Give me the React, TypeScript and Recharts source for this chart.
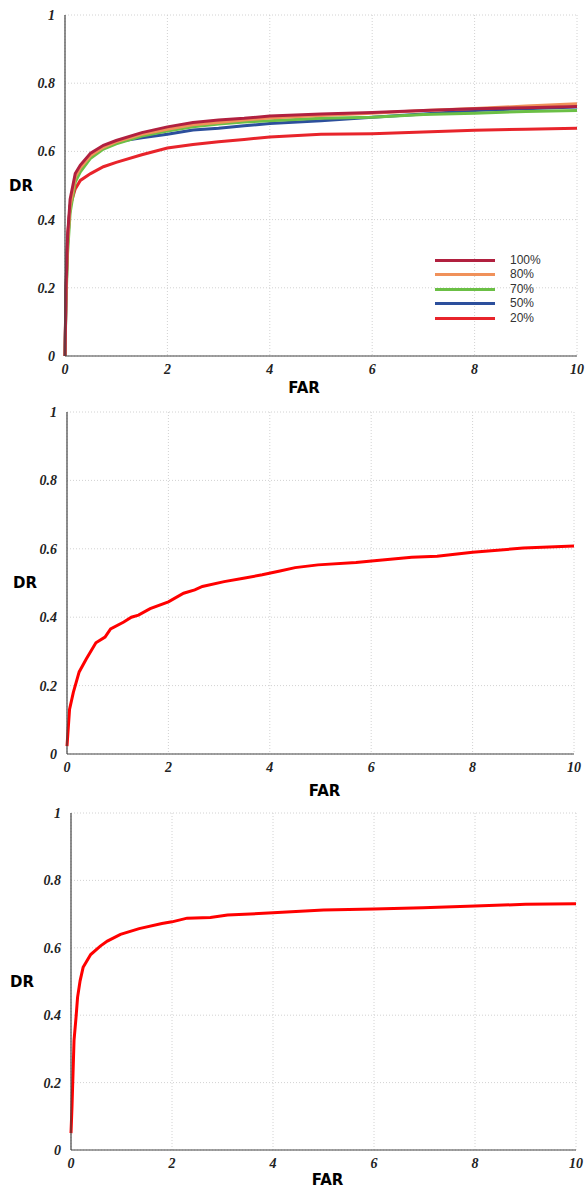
import { LineChart, Line, XAxis, YAxis, CartesianGrid, Legend, Label } from 'recharts';

const FAR_TICKS = [0, 2, 4, 6, 8, 10];
const DR_TICKS = [0, 0.2, 0.4, 0.6, 0.8, 1];

// top panel: five fractions on a common FAR grid
const FAR_A = [0, 0.02, 0.05, 0.1, 0.2, 0.3, 0.5, 0.75, 1, 1.5, 2, 2.5, 3, 3.5, 4, 5, 6, 7, 8, 9, 10];
const DR_100 = [0, 0.2, 0.35, 0.46, 0.535, 0.56, 0.595, 0.618, 0.632, 0.655, 0.672, 0.685, 0.692, 0.697, 0.704, 0.71, 0.714, 0.72, 0.725, 0.728, 0.732];
const DR_80 = [0, 0.18, 0.33, 0.44, 0.525, 0.552, 0.588, 0.612, 0.628, 0.65, 0.665, 0.678, 0.685, 0.692, 0.698, 0.705, 0.712, 0.72, 0.726, 0.733, 0.74];
const DR_70 = [0, 0.16, 0.3, 0.42, 0.51, 0.54, 0.58, 0.607, 0.622, 0.645, 0.66, 0.672, 0.68, 0.686, 0.69, 0.697, 0.7, 0.708, 0.712, 0.717, 0.72];
const DR_50 = [0, 0.18, 0.33, 0.44, 0.52, 0.55, 0.585, 0.61, 0.628, 0.64, 0.65, 0.663, 0.668, 0.675, 0.682, 0.69, 0.7, 0.71, 0.72, 0.725, 0.73];
const DR_20 = [0, 0.2, 0.35, 0.44, 0.49, 0.515, 0.535, 0.555, 0.568, 0.59, 0.61, 0.62, 0.628, 0.635, 0.642, 0.65, 0.652, 0.657, 0.662, 0.665, 0.668];

// middle panel
const FAR_B = [0, 0.05, 0.125, 0.24, 0.38, 0.57, 0.75, 0.86, 1.12, 1.27, 1.41, 1.64, 2.0, 2.3, 2.52, 2.67, 3.1, 3.48, 3.85, 4.2, 4.5, 4.95, 5.7, 6.06, 6.8, 7.3, 8, 9, 10];
const DR_B = [0.023, 0.13, 0.18, 0.24, 0.278, 0.325, 0.342, 0.366, 0.386, 0.4, 0.406, 0.425, 0.445, 0.47, 0.48, 0.49, 0.504, 0.514, 0.524, 0.535, 0.545, 0.553, 0.56, 0.565, 0.575, 0.578, 0.59, 0.602, 0.608];

// bottom panel
const FAR_C = [0, 0.02, 0.04, 0.06, 0.1, 0.13, 0.18, 0.24, 0.39, 0.58, 0.72, 0.98, 1.35, 1.8, 2.0, 2.3, 2.76, 3.1, 4, 5, 6, 6.97, 8, 9, 10];
const DR_C = [0.05, 0.13, 0.227, 0.325, 0.394, 0.453, 0.502, 0.542, 0.58, 0.605, 0.62, 0.64, 0.657, 0.672, 0.677, 0.688, 0.69, 0.697, 0.704, 0.712, 0.715, 0.719, 0.724, 0.729, 0.731];

const SERIES_A = [
  { key: 'p100', name: '100%', color: '#b1203f', values: DR_100 },
  { key: 'p80', name: '80%', color: '#f0915a', values: DR_80 },
  { key: 'p70', name: '70%', color: '#6bbf45', values: DR_70 },
  { key: 'p50', name: '50%', color: '#2c4f9c', values: DR_50 },
  { key: 'p20', name: '20%', color: '#e8242b', values: DR_20 },
];

const dataA = FAR_A.map((far, i) => {
  const row: Record<string, number> = { far };
  SERIES_A.forEach((s) => { row[s.key] = s.values[i]; });
  return row;
});
const dataB = FAR_B.map((far, i) => ({ far, dr: DR_B[i] }));
const dataC = FAR_C.map((far, i) => ({ far, dr: DR_C[i] }));

const AXIS = '#444';
const SERIF = '"Liberation Serif", "DejaVu Serif", serif';

// bold italic serif tick labels, like the original plot
function SerifTick({ x, y, payload, textAnchor, verticalAnchor }: any) {
  const dy = verticalAnchor === 'start' ? '0.75em' : '0.35em';
  return (
    <text
      x={x}
      y={y}
      dy={dy}
      textAnchor={textAnchor}
      fontFamily={SERIF}
      fontWeight="bold"
      fontStyle="italic"
      fontSize={14}
      fill="#222"
    >
      {String(payload.value)}
    </text>
  );
}

function FracLegend() {
  return (
    <div style={{ fontFamily: '"Liberation Sans", sans-serif', fontSize: 12, color: '#333' }}>
      {SERIES_A.map((s) => (
        <div key={s.key} style={{ display: 'flex', alignItems: 'center', height: 14.5, lineHeight: '13px' }}>
          <span style={{ display: 'inline-block', width: 60, height: 3, background: s.color, marginRight: 15 }} />
          <span>{s.name}</span>
        </div>
      ))}
    </div>
  );
}

function farLabel(dx: number, dy: number) {
  return ({ viewBox }: any) => (
    <text
      x={viewBox.x + viewBox.width / 2 + dx}
      y={viewBox.y + dy}
      textAnchor="middle"
      dominantBaseline="central"
      fontFamily='"DejaVu Sans", sans-serif'
      fontWeight={700}
      fontSize={15}
      fill="#000"
    >
      FAR
    </text>
  );
}

function drLabel(cx: number) {
  return ({ viewBox }: any) => (
    <text
      x={cx}
      y={viewBox.y + viewBox.height / 2}
      textAnchor="middle"
      dominantBaseline="central"
      fontFamily='"DejaVu Sans", sans-serif'
      fontWeight={700}
      fontSize={15}
      fill="#000"
    >
      DR
    </text>
  );
}

interface PanelProps {
  top: number;
  height: number;
  margin: { top: number; right: number; bottom: number; left: number };
  data: Record<string, number>[];
  farDx: number;
  farDy: number;
  drX: number;
  children: React.ReactNode;
}

function Panel({ top, height, margin, data, farDx, farDy, drX, children }: PanelProps) {
  return (
    <div style={{ position: 'absolute', left: 0, top }}>
      <LineChart width={587} height={height} data={data} margin={margin}>
        <CartesianGrid stroke="#d2d2d2" strokeDasharray="1 2" />
        <XAxis
          dataKey="far"
          type="number"
          domain={[0, 10]}
          ticks={FAR_TICKS}
          height={20}
          tickSize={0}
          tickMargin={7}
          tick={<SerifTick />}
          axisLine={{ stroke: AXIS, strokeWidth: 1.2 }}
        >
          <Label content={farLabel(farDx, farDy)} />
        </XAxis>
        <YAxis
          type="number"
          domain={[0, 1]}
          ticks={DR_TICKS}
          width={30}
          tickSize={0}
          tickMargin={10}
          tick={<SerifTick />}
          axisLine={{ stroke: AXIS, strokeWidth: 1.2 }}
        >
          <Label content={drLabel(drX)} />
        </YAxis>
        <XAxis
          xAxisId="top"
          orientation="top"
          type="number"
          domain={[0, 10]}
          ticks={FAR_TICKS}
          height={0}
          mirror
          tickSize={5}
          tickFormatter={() => ''}
          axisLine={{ stroke: AXIS, strokeWidth: 1.2 }}
          tickLine={{ stroke: AXIS }}
        />
        <YAxis
          yAxisId="right"
          orientation="right"
          type="number"
          domain={[0, 1]}
          ticks={DR_TICKS}
          width={0}
          mirror
          tickSize={5}
          tickFormatter={() => ''}
          axisLine={{ stroke: AXIS, strokeWidth: 1.2 }}
          tickLine={{ stroke: AXIS }}
        />
        {children}
      </LineChart>
    </div>
  );
}

export default function App() {
  const drawOrder = [...SERIES_A].reverse();
  return (
    <div style={{ position: 'absolute', left: 0, top: 0, width: 587, height: 1189, background: '#fff' }}>
      <Panel
        top={0}
        height={399}
        margin={{ top: 15, right: 10, bottom: 23, left: 35 }}
        data={dataA}
        farDx={-17}
        farDy={32}
        drX={21}
      >
        {drawOrder.map((s) => (
          <Line
            key={s.key}
            type="linear"
            dataKey={s.key}
            name={s.name}
            stroke={s.color}
            strokeWidth={3}
            dot={false}
            isAnimationActive={false}
          />
        ))}
        <Legend
          layout="vertical"
          align="center"
          verticalAlign="middle"
          content={<FracLegend />}
          wrapperStyle={{ left: 435, top: 253, width: 120 }}
        />
      </Panel>
      <Panel
        top={399}
        height={402}
        margin={{ top: 13, right: 13, bottom: 27, left: 37 }}
        data={dataB}
        farDx={4}
        farDy={37}
        drX={25}
      >
        <Line type="linear" dataKey="dr" stroke="#ff0000" strokeWidth={3} dot={false} isAnimationActive={false} />
      </Panel>
      <Panel
        top={795}
        height={394}
        margin={{ top: 18, right: 11, bottom: 19, left: 41 }}
        data={dataC}
        farDx={4}
        farDy={30}
        drX={22}
      >
        <Line type="linear" dataKey="dr" stroke="#ff0000" strokeWidth={3} dot={false} isAnimationActive={false} />
      </Panel>
    </div>
  );
}
